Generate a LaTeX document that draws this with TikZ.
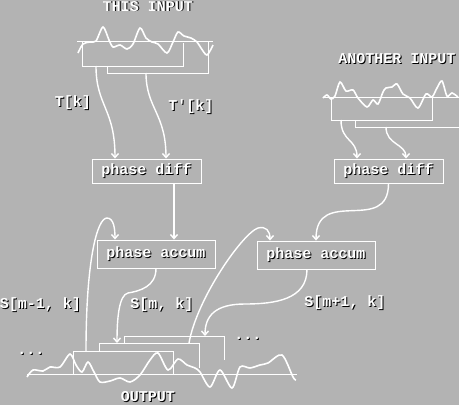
\documentclass[tikz,border=0pt]{standalone}
\usepackage{fontspec}
\setmonofont{Liberation Mono}
\usetikzlibrary{arrows.meta}
\definecolor{bggrey}{RGB}{179,179,179}
\newcommand\emboss[1]{\leavevmode\rlap{\kern0.8pt\raisebox{-0.8pt}{\textcolor{black}{#1}}}\textcolor{white}{#1}}
\begin{document}
\begin{tikzpicture}[x=1pt,y=-1pt,
  every node/.style={font=\ttfamily\bfseries\fontsize{15}{15}\selectfont,inner sep=0pt},
  procbox/.style={draw=white,line width=0.9pt,minimum width=109pt,minimum height=24pt},
  sig/.style={white,line width=1.6pt},
  frm/.style={white,line width=1pt},
  flow/.style={white,line width=1.4pt,-{Straight Barb[length=4pt,width=7pt]}}]
  \fill[bggrey] (0,0) rectangle (459,405);
  \useasboundingbox (0,0) rectangle (459,405);
  % this input
  \node[anchor=north] (thisin) at (148,0.8) {\emboss{THIS INPUT}};
  \draw[frm] (77,41) -- (213,41);
  \draw[sig] plot[smooth] coordinates {(78,53) (83,44) (90,42) (96,41) (103,27) (109,40) (113,47) (120,45) (127,49) (133,44) (140,28) (146,38) (152,42) (158,44) (167,53) (173,42) (178,32) (184,36) (191,38) (197,42) (201,48) (207,55) (213,45)};
  \draw[frm] (82,41) |- (183,66) -- (183,43);
  \draw[frm] (107,66) |- (208,73) -- (208,41);
  \coordinate (t1) at (96,66);
  \coordinate (t2) at (146,73);
  % another input
  \node (otherin) at (397,59) {\emboss{ANOTHER INPUT}};
  \draw[frm] (323,97) -- (459,97);
  \draw[sig] plot[smooth] coordinates {(323,98) (327,95) (331,99) (335,96) (340,82) (346,91) (353,90) (358,98) (367,107) (373,100) (378,104) (383,92) (386,88) (392,87) (397,84) (403,94) (410,98) (418,108) (426,94) (432,97) (437,88) (442,81) (447,96) (452,93) (458,97)};
  \draw[frm] (331,97) |- (432,120) -- (432,97);
  \draw[frm] (355,120) |- (459,127);
  \coordinate (u1) at (341,120);
  \coordinate (u2) at (386,127);
  % boxes
  \node[procbox] (pd1) at (146.5,171) {\emboss{phase diff}};
  \node[procbox] (pd2) at (388.5,171) {\emboss{phase diff}};
  \node[procbox,minimum width=118pt,minimum height=28pt] (pa1) at (156,254) {\emboss{phase accum}};
  \node[procbox,minimum width=118pt,minimum height=28pt] (pa2) at (316,255) {\emboss{phase accum}};
  % output
  \draw[frm] (27,374) -- (297,374);
  \draw[sig] plot[smooth] coordinates {(27,377) (33,370) (43,371) (50,367) (60,367) (70,354) (76,365) (82,372) (88,362) (94,372) (100,382) (110,381) (120,378) (130,382) (140,375) (150,360) (158,353) (168,370) (178,359) (187,365) (195,368) (200,372) (210,387) (220,370) (232,388) (240,367) (250,368) (260,365) (268,363) (282,355) (293,377) (296,380)};
  \draw[frm] (73,374) |- (173,351) -- (173,374);
  \draw[frm] (99,351) |- (199,343) -- (199,368);
  \draw[frm] (124,343) |- (224,336) -- (224,360);
  \coordinate (oA) at (86,351);
  \coordinate (oB1) at (117,343);
  \coordinate (oB2) at (189,343);
  \coordinate (oC) at (205,336);
  \node[anchor=south] (outlbl) at (148,402.5) {\emboss{OUTPUT}};
  \node (dotsl) at (31,354) {\emboss{...}};
  \node (dotsr) at (248,339) {\emboss{...}};
  % connectors
  \draw[flow] (t1) .. controls +(0,40) and +(0,-50) .. ([xshift=-31.5pt]pd1.north);
  \draw[flow] (t2) .. controls +(0,35) and +(0,-45) .. ([xshift=19.5pt]pd1.north);
  \draw[flow] (u1) .. controls +(0,22) and +(0,-20) .. ([xshift=-31.5pt]pd2.north);
  \draw[flow] (u2) .. controls +(0,18) and +(0,-15) .. ([xshift=17.5pt]pd2.north);
  \draw[flow] ([xshift=27.5pt]pd1.south) -- ([xshift=18pt]pa1.north);
  \draw[flow] (pd2.south) .. controls +(0,52) and +(0,-55) .. (pa2.north);
  \coordinate (hump1) at (107,218);
  \coordinate (hump2) at (258,228);
  \coordinate (bend1) at (128,293);
  \coordinate (bend2) at (245,304);
  \draw[flow] (oA) .. controls +(0,-90) and +(-10,0) .. (hump1) .. controls +(7,0) and +(0,-10) .. ([xshift=-41pt]pa1.north);
  \draw[flow] (pa1.south) .. controls +(0,18) and +(12,-2) .. (bend1) .. controls +(-9,2) and +(0,-25) .. (oB1);
  \draw[flow] (oB2) .. controls +(8,-45) and +(-15,5) .. (hump2) .. controls +(8,-2) and +(0,-10) .. ([xshift=-46pt]pa2.north);
  \draw[flow] ([xshift=-9pt]pa2.south) .. controls +(0,30) and +(30,0) .. (bend2) .. controls +(-30,0) and +(0,-20) .. (oC);
  % labels
  \node (lblT) at (73,103) {\emboss{T[k]}};
  \node (lblTp) at (191,107) {\emboss{T'[k]}};
  \node (lblprev) at (40.5,305) {\emboss{S[m-1, k]}};
  \node (lblcur) at (162,305) {\emboss{S[m, k]}};
  \node (lblnext) at (345,303) {\emboss{S[m+1, k]}};
\end{tikzpicture}
\end{document}
